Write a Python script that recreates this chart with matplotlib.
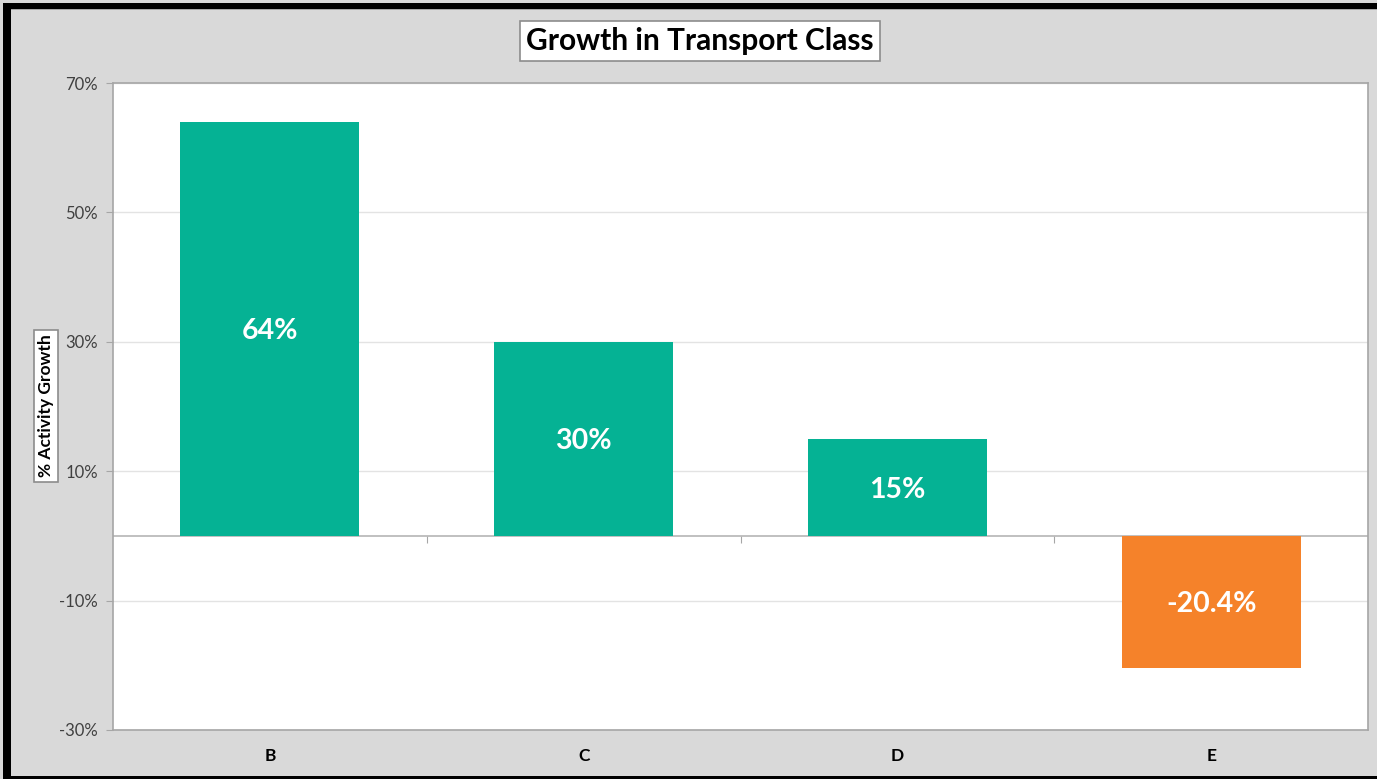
import matplotlib
matplotlib.use("Agg")
import matplotlib.pyplot as plt
from matplotlib.patches import Rectangle

categories = ["B", "C", "D", "E"]
values = [64.0, 30.0, 15.0, -20.4]
labels = ["64%", "30%", "15%", "-20.4%"]
yticks = [-30, -10, 10, 30, 50, 70]
title = "Growth in Transport Class"
ylabel = "% Activity Growth"

TEAL = "#05B294"
ORANGE = "#F5822A"
BG = "#D9D9D9"

plt.rcParams['font.family'] = ['Lato', 'DejaVu Sans']

fig = plt.figure(figsize=(13.77, 7.79), dpi=100)
fig.patch.set_facecolor(BG)

ax = fig.add_axes([113/1377, 1-730/779, (1368-113)/1377, (730-83)/779])
ax.set_facecolor("white")

colors = [TEAL if v >= 0 else ORANGE for v in values]
x = list(range(len(categories)))
ax.bar(x, values, width=0.57, color=colors, zorder=3)

for xi, v, lab in zip(x, values, labels):
    ax.text(xi, v/2, lab, ha="center", va="center_baseline", color="white",
            fontsize=20.5, fontweight="bold", zorder=4)

ax.set_xlim(-0.5, len(categories)-0.5)
ax.set_ylim(-30, 70)
ax.set_yticks(yticks)
ax.set_yticklabels([f"{t}%" for t in yticks], fontsize=12, color="#404040")
ax.tick_params(axis="y", length=5, color="#A6A6A6", pad=6, direction="out")
ax.set_xticks(x)
ax.set_xticklabels(categories, fontsize=12.5, fontweight="bold", color="black")
ax.tick_params(axis="x", length=0, pad=13)
ax.grid(axis="y", color="#E3E3E3", linewidth=1, zorder=0)
for s in ax.spines.values():
    s.set_color("#A6A6A6")
    s.set_linewidth(1.2)

ax.axhline(0, color="#B5B5B5", linewidth=1.2, zorder=2)
sec = ax.secondary_xaxis(0.3)
sec.set_xticks([0.5, 1.5, 2.5])
sec.set_xticklabels(["", "", ""])
sec.tick_params(axis="x", length=5, color="#A6A6A6", direction="out")
sec.spines["bottom"].set_visible(False)

# title box
fig.text(700/1377, 1-41/779, title, ha="center", va="center", fontsize=21.5,
         fontweight="bold", color="black",
         bbox=dict(boxstyle="square,pad=0.2", facecolor="white", edgecolor="#8C8C8C", linewidth=1.2))

# y label box
fig.text(46/1377, 1-406/779, ylabel, ha="center", va="center", rotation=90,
         fontsize=12.5, fontweight="bold", color="black",
         bbox=dict(boxstyle="square,pad=0.25", facecolor="white", edgecolor="#8C8C8C", linewidth=1.2))

# outer border (black on left, top, bottom)
fig.patches.append(Rectangle((3/1377, 0), 8/1377, 1-3/779, transform=fig.transFigure,
                             facecolor="black", edgecolor="none", zorder=10))
fig.patches.append(Rectangle((3/1377, 1-9/779), 1, 6/779, transform=fig.transFigure,
                             facecolor="black", edgecolor="none", zorder=10))
fig.patches.append(Rectangle((3/1377, 0), 1, 3/779, transform=fig.transFigure,
                             facecolor="black", edgecolor="none", zorder=10))
fig.patches.append(Rectangle((11/1377, 1-10/779), 1, 1/779, transform=fig.transFigure,
                             facecolor="#A6A6A6", edgecolor="none", zorder=10))

fig.savefig("out.png", dpi=100, facecolor=BG)
